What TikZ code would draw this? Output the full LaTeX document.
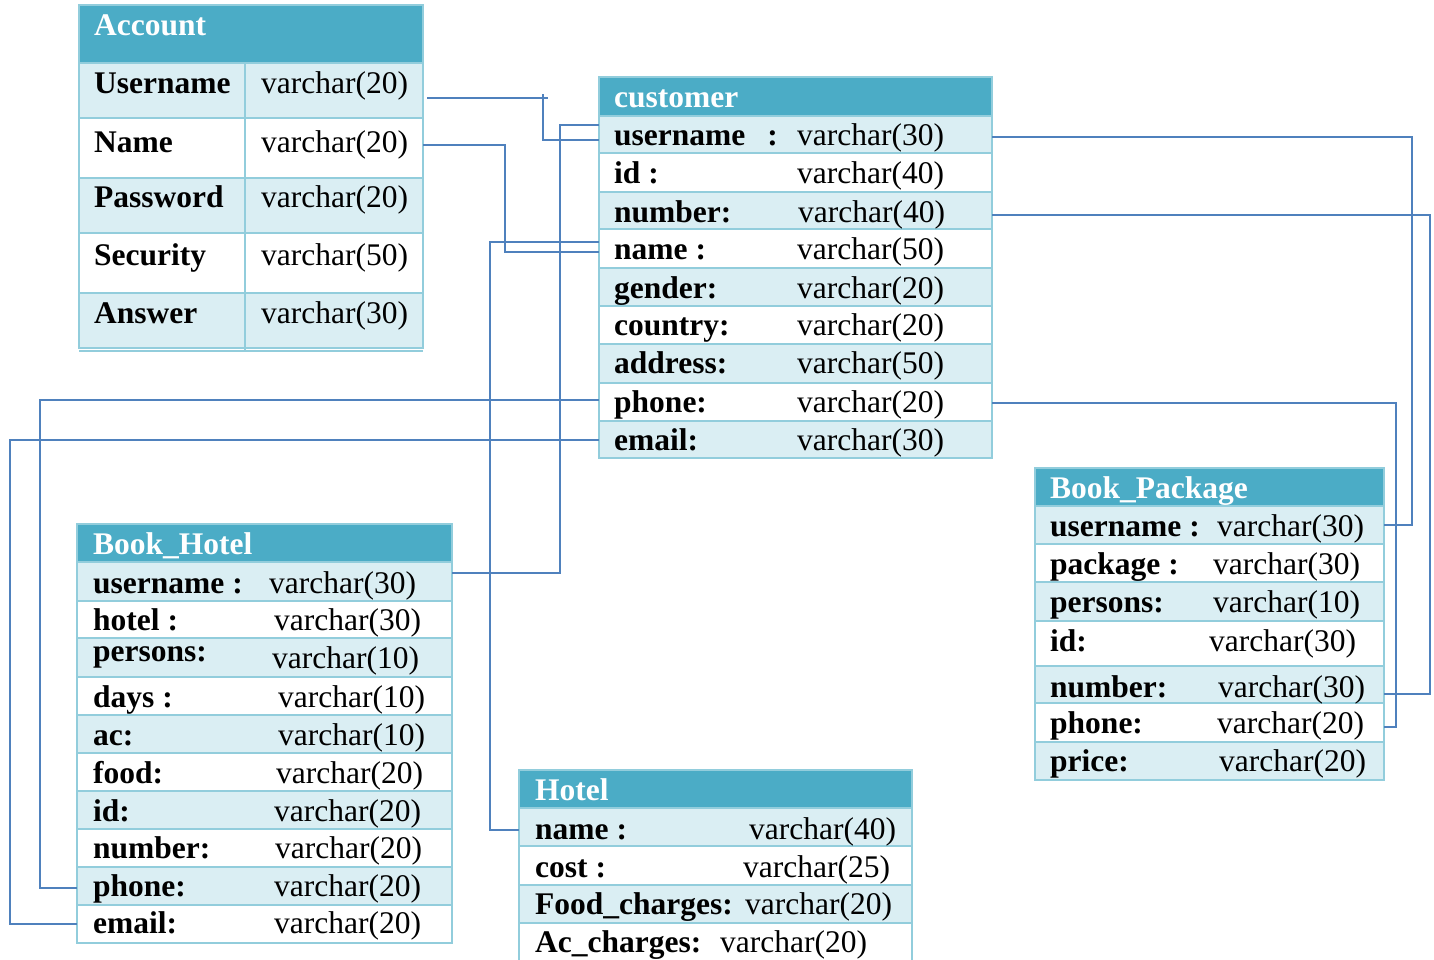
\documentclass[tikz,border=0pt]{standalone}
\usepackage{fontspec}
\setmainfont{Liberation Serif}
\definecolor{headcol}{HTML}{4BACC6}
\definecolor{lightrow}{HTML}{DAEEF3}
\definecolor{rowline}{HTML}{92CDDC}
\definecolor{linecol}{HTML}{4F81BD}
\newcommand\bigf{\fontsize{31.5}{36}\selectfont}
\newcommand\tcell[6]{\node[cell,fill=#6,minimum width={(#4-#2)*1pt},minimum height={(#5-#3)*1pt}] (#1) at ({(#2+#4)/2},{(#3+#5)/2}) {};}
\newcommand\labt[4]{\node[labtxt] (#1) at (#2,#3) {#4};}
\newcommand\valt[4]{\node[valtxt] (#1) at (#2,#3) {#4};}
\newcommand\ttlt[4]{\node[ttltxt] (#1) at (#2,#3) {#4};}
\begin{document}
\begin{tikzpicture}[x=1pt,y=-1pt,
  cell/.style={draw=rowline,line width=1.3pt,inner sep=0pt,outer sep=0pt},
  labtxt/.style={anchor=base west,inner sep=0pt,font=\bigf\bfseries,text=black},
  valtxt/.style={anchor=base west,inner sep=0pt,font=\bigf,text=black},
  ttltxt/.style={anchor=base west,inner sep=0pt,font=\bigf\bfseries,text=white},
  conn/.style={draw=linecol,line width=1.3pt}]
\useasboundingbox[fill=white] (0,0) rectangle (1434,959);

% ---------------- Account ----------------
\tcell{accH}{79}{5}{423}{63}{headcol}
\tcell{accU}{79}{63}{423}{118}{lightrow}
\tcell{accN}{79}{118}{423}{178}{white}
\tcell{accP}{79}{178}{423}{233}{lightrow}
\tcell{accS}{79}{233}{423}{293}{white}
\tcell{accA}{79}{293}{423}{348}{lightrow}
\draw[rowline,line width=1.3pt] (245,63) -- (245,351);
\draw[rowline,line width=1.3pt] (79,351) -- (423,351);
\ttlt{accT}{94}{35}{Account}
\labt{accUl}{94}{93}{Username}\valt{accUv}{261}{93}{varchar(20)}
\labt{accNl}{94}{152}{Name}\valt{accNv}{261}{152}{varchar(20)}
\labt{accPl}{94}{207}{Password}\valt{accPv}{261}{207}{varchar(20)}
\labt{accSl}{94}{265}{Security}\valt{accSv}{261}{265}{varchar(50)}
\labt{accAl}{94}{323}{Answer}\valt{accAv}{261}{323}{varchar(30)}

% ---------------- customer ----------------
\tcell{cuH}{599}{77}{992}{116}{headcol}
\tcell{cuU}{599}{116}{992}{153}{lightrow}
\tcell{cuId}{599}{153}{992}{192}{white}
\tcell{cuNum}{599}{192}{992}{229}{lightrow}
\tcell{cuN}{599}{229}{992}{268}{white}
\tcell{cuG}{599}{268}{992}{306}{lightrow}
\tcell{cuC}{599}{306}{992}{344}{white}
\tcell{cuAd}{599}{344}{992}{383}{lightrow}
\tcell{cuPh}{599}{383}{992}{421}{white}
\tcell{cuEm}{599}{421}{992}{458}{lightrow}
\ttlt{cuT}{614}{107}{customer}
\labt{cuUl}{614}{145}{username\hspace{22pt}:}\valt{cuUv}{797}{145}{varchar(30)}
\labt{cuIdl}{614}{183}{id :}\valt{cuIdv}{797}{183}{varchar(40)}
\labt{cuNuml}{614}{222}{number:}\valt{cuNumv}{798}{222}{varchar(40)}
\labt{cuNl}{614}{259}{name :}\valt{cuNv}{797}{259}{varchar(50)}
\labt{cuGl}{614}{298}{gender:}\valt{cuGv}{797}{298}{varchar(20)}
\labt{cuCl}{614}{335}{country:}\valt{cuCv}{797}{335}{varchar(20)}
\labt{cuAdl}{614}{373}{address:}\valt{cuAdv}{797}{373}{varchar(50)}
\labt{cuPhl}{614}{412}{phone:}\valt{cuPhv}{797}{412}{varchar(20)}
\labt{cuEml}{614}{450}{email:}\valt{cuEmv}{797}{450}{varchar(30)}

% ---------------- Book_Package ----------------
\tcell{bpH}{1035}{468}{1384}{506}{headcol}
\tcell{bpU}{1035}{506}{1384}{544}{lightrow}
\tcell{bpPk}{1035}{544}{1384}{582}{white}
\tcell{bpPe}{1035}{582}{1384}{621}{lightrow}
\tcell{bpId}{1035}{621}{1384}{666}{white}
\tcell{bpNum}{1035}{666}{1384}{703}{lightrow}
\tcell{bpPh}{1035}{703}{1384}{742}{white}
\tcell{bpPr}{1035}{742}{1384}{780}{lightrow}
\ttlt{bpT}{1050}{498}{Book\_Package}
\labt{bpUl}{1050}{536}{username :}\valt{bpUv}{1217}{536}{varchar(30)}
\labt{bpPkl}{1050}{574}{package :}\valt{bpPkv}{1213}{574}{varchar(30)}
\labt{bpPel}{1050}{612}{persons:}\valt{bpPev}{1213}{612}{varchar(10)}
\labt{bpIdl}{1050}{651}{id:}\valt{bpIdv}{1209}{651}{varchar(30)}
\labt{bpNuml}{1050}{697}{number:}\valt{bpNumv}{1218}{697}{varchar(30)}
\labt{bpPhl}{1050}{733}{phone:}\valt{bpPhv}{1217}{733}{varchar(20)}
\labt{bpPrl}{1050}{771}{price:}\valt{bpPrv}{1219}{771}{varchar(20)}

% ---------------- Book_Hotel ----------------
\tcell{bhH}{77}{524}{452}{562}{headcol}
\tcell{bhU}{77}{562}{452}{601}{lightrow}
\tcell{bhHo}{77}{601}{452}{638}{white}
\tcell{bhPe}{77}{638}{452}{677}{lightrow}
\tcell{bhD}{77}{677}{452}{715}{white}
\tcell{bhAc}{77}{715}{452}{753}{lightrow}
\tcell{bhF}{77}{753}{452}{791}{white}
\tcell{bhId}{77}{791}{452}{829}{lightrow}
\tcell{bhNum}{77}{829}{452}{867}{white}
\tcell{bhPh}{77}{867}{452}{905}{lightrow}
\tcell{bhEm}{77}{905}{452}{943}{white}
\ttlt{bhT}{93}{554}{Book\_Hotel}
\labt{bhUl}{93}{593}{username :}\valt{bhUv}{269}{593}{varchar(30)}
\labt{bhHol}{93}{630}{hotel :}\valt{bhHov}{274}{630}{varchar(30)}
\labt{bhPel}{93}{661}{persons:}\valt{bhPev}{272}{668}{varchar(10)}
\labt{bhDl}{93}{707}{days :}\valt{bhDv}{278}{707}{varchar(10)}
\labt{bhAcl}{93}{745}{ac:}\valt{bhAcv}{278}{745}{varchar(10)}
\labt{bhFl}{93}{783}{food:}\valt{bhFv}{276}{783}{varchar(20)}
\labt{bhIdl}{93}{821}{id:}\valt{bhIdv}{274}{821}{varchar(20)}
\labt{bhNuml}{93}{858}{number:}\valt{bhNumv}{275}{858}{varchar(20)}
\labt{bhPhl}{93}{896}{phone:}\valt{bhPhv}{274}{896}{varchar(20)}
\labt{bhEml}{93}{933}{email:}\valt{bhEmv}{274}{933}{varchar(20)}

% ---------------- Hotel ----------------
\tcell{hotH}{519}{770}{912}{808}{headcol}
\tcell{hotN}{519}{808}{912}{846}{lightrow}
\tcell{hotC}{519}{846}{912}{885}{white}
\tcell{hotF}{519}{885}{912}{923}{lightrow}
\tcell{hotA}{519}{923}{912}{970}{white}
\ttlt{hotT}{535}{800}{Hotel}
\labt{hotNl}{535}{839}{name :}\valt{hotNv}{749}{839}{varchar(40)}
\labt{hotCl}{535}{877}{cost :}\valt{hotCv}{743}{877}{varchar(25)}
\labt{hotFl}{535}{914}{Food\_charges:}\valt{hotFv}{745}{914}{varchar(20)}
\labt{hotAl}{535}{952}{Ac\_charges:}\valt{hotAv}{720}{952}{varchar(20)}

% ---------------- connectors ----------------
\coordinate (tickTop) at (543,94);
\coordinate (tickEnd) at (548,98);
\draw[conn] ([xshift=4pt,yshift=-7.5pt]accU.east) -- (tickEnd);
\draw[conn] (tickTop) |- ([yshift=-5.5pt]cuU.west);
\draw[conn] ([yshift=3pt]accN.east) -| ([xshift=-94pt,yshift=-3.5pt]cuN.west) -- ([yshift=-3.5pt]cuN.west);
\draw[conn] ([yshift=6.5pt]cuN.west) -| ([xshift=-29pt,yshift=-3pt]hotN.west) -- ([yshift=-3pt]hotN.west);
\draw[conn] ([yshift=9.5pt]cuU.west) -| ([xshift=108pt,yshift=8.5pt]bhU.east) -- ([yshift=8.5pt]bhU.east);
\draw[conn] ([yshift=2pt]cuPh.west) -| ([xshift=-37pt,yshift=-2pt]bhPh.west) -- ([yshift=-2pt]bhPh.west);
\draw[conn] ([yshift=-0.5pt]cuEm.west) -| ([xshift=-67pt]bhEm.west) -- (bhEm.west);
\draw[conn] ([yshift=-2.5pt]cuU.east) -| ([xshift=28pt]bpU.east) -- (bpU.east);
\draw[conn] ([yshift=-4.5pt]cuNum.east) -| ([xshift=46pt,yshift=-9.5pt]bpNum.east) -- ([yshift=-9.5pt]bpNum.east);
\draw[conn] ([yshift=-1pt]cuPh.east) -| ([xshift=12pt,yshift=-4.5pt]bpPh.east) -- ([yshift=-4.5pt]bpPh.east);
\end{tikzpicture}
\end{document}
